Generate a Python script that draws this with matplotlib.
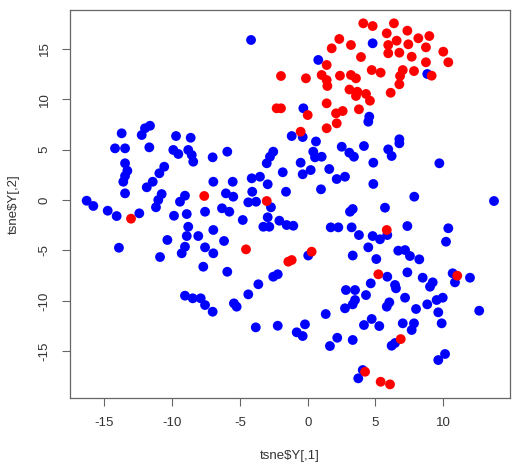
import matplotlib
matplotlib.use("Agg")
import matplotlib.pyplot as plt

blue_x = [-13.72, -12.24, -12.0, -11.63, -9.71, -8.63, -14.21, -13.47, -11.68, -9.91,
          -9.54, -8.81, -8.55, -8.44, -7.01, -13.47, -13.30, -13.47, -13.60, -10.58,
          -10.94, -11.43, -11.87, -6.96, -13.47, -16.30, -15.81, -10.77, -11.02, -11.19,
          -9.05, -9.42, -14.75, -14.09, -12.42, -9.86, -8.92, -7.57, -6.32, -8.81,
          -8.92, -8.07, -6.96, -10.35, -13.92, -9.05, -9.29, -10.89, -7.57, -6.96,
          -7.70, -9.05, -8.48, -7.89, -7.57, -7.01,
          -4.18, 0.78, -0.32, -1.18, -0.37, 0.61, -5.93, -2.54, -2.78, -3.02,
          0.41, 0.54, 1.03, 2.51, 3.07, 3.41, -0.52, -1.84, 0.22, -0.37,
          1.59, 2.75, 2.14, -5.53, -4.13, -3.52, -2.95, -4.09, -1.60, 0.98,
          -6.03, -5.49, -4.38, -3.81, -2.71, -5.78, 3.32, 3.12, -4.79, -2.95,
          -2.09, -1.55, -1.06, -3.27, -2.83, 1.70, 2.26, 3.24, 3.78, -6.17,
          0.04, 3.32, -5.93, -2.54, -2.21, -3.64, -4.38, -5.44, -5.24, 2.82,
          3.49, 3.49, 3.32, 2.75, 1.33, -3.83, -2.21, -0.20, -0.81, -0.37,
          2.18, 1.64, 3.32, 3.73,
          4.15, 5.94, 6.19, 6.76, 4.84, 9.71, 4.84, 7.86, 13.74, 5.70,
          7.35, 10.37, 10.20, 4.79, 5.33, 5.87, 4.47, 6.68, 7.18, 7.54,
          8.23, 5.06, 5.87, 4.65, 7.35, 8.48, 10.69, 10.86, 11.97, 6.44,
          6.51, 9.22, 9.02, 4.30, 7.18, 6.02, 5.83, 9.96, 9.51, 8.82,
          7.99, 12.65, 9.63, 9.88, 4.72, 4.15, 5.28, 7.01, 7.84, 7.67,
          6.19, 6.44, 10.13, 9.63, 4.06,
          4.79, 8.82, 4.54, 4.47, 6.76]
blue_y = [6.61, 6.44, 7.11, 7.36, 6.34, 6.17, 5.12, 5.12, 5.22, 4.96,
          4.56, 4.96, 4.46, 3.80, 4.23, 3.64, 2.90, 2.38, 1.81, 3.30,
          2.65, 1.81, 1.26, 1.81, 0.66, -0.07, -0.59, 0.59, 0.0, -0.72,
          0.43, -0.17, -1.06, -1.59, -1.32, -1.56, -1.39, -1.16, -0.82, -2.65,
          -3.57, -3.57, -2.97, -3.96, -4.73, -4.63, -5.28, -5.65, -4.69, -5.28,
          -6.61, -9.48, -9.74, -9.74, -10.41, -11.07,
          15.86, 13.88, 9.09, 6.34, 6.24, 5.80, 4.79, 4.79, 4.29, 3.64,
          4.79, 4.23, 4.29, 5.28, 4.69, 4.29, 3.70, 2.75, 2.97, 2.55,
          3.07, 2.31, 2.08, 1.81, 2.15, 2.31, 1.56, 0.82, 0.82, 1.06,
          0.66, 0.33, -0.23, -0.17, -0.72, -1.16, -0.89, -1.16, -1.98, -1.71,
          -2.05, -2.48, -2.55, -2.65, -2.65, -2.71, -2.71, -2.71, -3.47, -4.06,
          -5.50, -5.50, -7.11, -7.60, -7.36, -8.35, -9.35, -10.24, -10.57, -8.92,
          -8.92, -9.91, -10.34, -10.73, -11.30, -12.62, -12.46, -12.32, -13.11, -13.48,
          -13.65, -14.47, -13.87, -17.67,
          5.35, 5.02, 4.36, 5.62, 3.70, 3.64, 1.59, 0.33, -0.10, -0.76,
          -2.58, -2.80, -4.13, -3.57, -3.89, -3.47, -4.69, -5.02, -4.96, -5.55,
          -5.88, -5.85, -7.60, -8.26, -7.17, -7.70, -7.26, -8.16, -7.70, -8.42,
          -8.75, -8.16, -8.59, -9.42, -9.68, -10.14, -10.57, -9.68, -9.91, -10.34,
          -10.80, -10.97, -11.13, -12.22, -11.79, -12.39, -12.49, -12.22, -12.22, -12.88,
          -14.44, -14.17, -15.26, -15.86, -16.85,
          15.53, 12.49, 8.26, 7.76, 6.02]

red_x = [-7.63, -13.03, -3.02, -4.55, 0.29, -1.43, -1.18, 5.83, 5.21, 11.03,
         6.86, 4.23, 5.38, 6.07,
         1.40, -1.97, -0.13, 1.03, 1.40, 1.45, 2.38, 3.19, 3.56, 3.08,
         3.56, 3.66, 2.33, 1.77, 3.19, 3.93, -2.29, -1.97, 0.0, 1.40,
         2.09, 2.58, 2.14, 1.40, 3.78, -0.52, 4.10, 4.79, 6.36, 5.83,
         7.35, 8.16, 8.97, 5.94, 6.56, 7.42, 8.72, 5.94, 6.76, 7.67,
         10.0, 10.37, 8.72, 4.72, 5.38, 7.01, 6.81, 7.84, 9.14, 6.76,
         6.12, 4.30, 4.59]
red_y = [0.40, -1.85, -0.10, -4.89, -5.12, -6.11, -5.95, -2.97, -7.36, -7.50,
         -13.78, -17.02, -18.01, -18.27,
         13.38, 12.29, 12.06, 12.39, 11.89, 11.30, 12.32, 12.39, 12.06, 10.95,
         10.31, 10.73, 15.96, 15.03, 15.36, 14.17, 9.09, 9.09, 8.42, 9.58,
         8.59, 8.82, 7.60, 7.11, 8.99, 6.77, 17.51, 17.24, 17.51, 16.52,
         16.78, 16.03, 16.25, 15.36, 15.79, 15.43, 15.13, 14.54, 14.60, 14.20,
         14.70, 13.65, 13.65, 12.88, 12.62, 12.88, 12.29, 12.78, 12.32, 11.47,
         10.63, 10.51, 9.84]

x_ticks = [-15, -10, -5, 0, 5, 10]
y_ticks = [-15, -10, -5, 0, 5, 10, 15]
x_label = "tsne$Y[,1]"
y_label = "tsne$Y[,2]"

plt.rcParams['font.family'] = ['Liberation Sans', 'DejaVu Sans']

fig = plt.figure(figsize=(5.23, 4.65), dpi=100)
ax = fig.add_axes([70/523, 1-398/465, 440/523, 388/465])

ax.scatter(blue_x, blue_y, s=50, c='#0000FF', edgecolors='none', zorder=2)
ax.scatter(red_x, red_y, s=50, c='#FF0000', edgecolors='none', zorder=3)

ax.set_xlim(-17.53, 14.92)
ax.set_ylim(-19.62, 18.83)
ax.set_xticks(x_ticks)
ax.set_yticks(y_ticks)
fs = 9.5
ax.set_xticklabels([str(t) for t in x_ticks], fontsize=fs, color='#333333')
ax.set_yticklabels([str(t) for t in y_ticks], fontsize=fs, color='#333333',
                   rotation=90, va='center')
ax.tick_params(direction='out', length=5.8, width=0.8, color='#666666', pad=8)
for s in ax.spines.values():
    s.set_color('#666666')
    s.set_linewidth(0.9)
ax.set_xlabel(x_label, fontsize=fs, color='#333333', labelpad=15)
ax.set_ylabel(y_label, fontsize=fs, color='#333333', labelpad=14)

fig.savefig("out.png", dpi=100)
